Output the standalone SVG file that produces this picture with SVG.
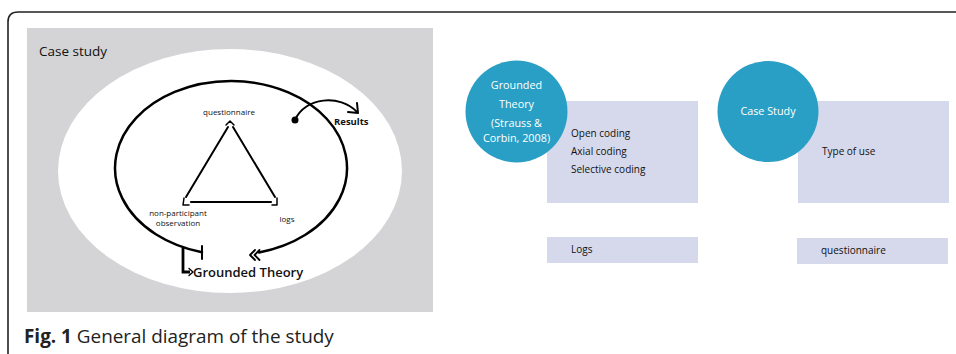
<svg xmlns="http://www.w3.org/2000/svg" width="956" height="354" viewBox="0 0 956 354">
<style>
.ln{fill:none;stroke:#000;stroke-linecap:round;stroke-linejoin:round}
.lbl{font-family:"Open Sans","Liberation Sans",sans-serif;fill:#111}
.wt{font-family:"Open Sans","Liberation Sans",sans-serif;fill:#fff;font-size:10.8px;text-anchor:middle}
.bx{fill:#d6d9eb}
.circ{fill:#2a9fc5}
.bt{font-family:"Open Sans","Liberation Sans",sans-serif;fill:#111;font-size:10px}
</style>
<rect width="956" height="354" fill="#fff"/>
<path d="M8 354 V22 Q8 12 18 12 H956" fill="none" stroke="#222" stroke-width="1.6"/>

<g id="case-study-panel">
<rect x="27" y="28" width="406" height="284" fill="#d4d4d6"/>
<ellipse cx="230" cy="171" rx="172" ry="122" fill="#fff"/>
<text class="lbl" x="39" y="56" font-size="13.5">Case study</text>
</g>

<g id="triangle">
<line class="ln" x1="228" y1="127" x2="186" y2="197" stroke-width="2"/>
<line class="ln" x1="233" y1="127" x2="275" y2="197" stroke-width="2"/>
<line class="ln" x1="191" y1="202" x2="271" y2="202" stroke-width="2.2"/>
<polyline class="ln" points="226,125 230,121 234,125" stroke-width="1.5"/>
<polyline class="ln" points="184,198 183,205 189,205" stroke-width="1.5"/>
<polyline class="ln" points="277,198 277,205 272,205" stroke-width="1.5"/>
</g>

<g id="node-questionnaire"><text class="lbl" x="229" y="115" font-size="8" text-anchor="middle">questionnaire</text></g>
<g id="node-observation"><text class="lbl" x="178" y="216" font-size="8" text-anchor="middle">non-participant</text><text class="lbl" x="178" y="226" font-size="8" text-anchor="middle">observation</text></g>
<g id="node-logs"><text class="lbl" x="287" y="222" font-size="8" text-anchor="middle">logs</text></g>
<g id="node-results"><text class="lbl" x="334" y="125" font-size="9.5" font-weight="bold">Results</text></g>
<g id="node-grounded-theory"><text class="lbl" x="193" y="277" font-size="13" font-weight="600">Grounded Theory</text></g>

<g id="connectors">
<path class="ln" d="M202 252.2 A116 87 0 1 1 259 252.4" stroke-width="2.5"/>
<line class="ln" x1="202" y1="246" x2="202" y2="259" stroke-width="2"/>
<path d="M183 248 V272 H190" fill="none" stroke="#000" stroke-width="2.8"/>
<polyline class="ln" points="189,268.5 193,272 189,275.5" stroke-width="1.4"/>
<polyline class="ln" points="255,250 250,255 255,260" stroke-width="1.8"/>
<polyline class="ln" points="259.5,250 254.5,255 259.5,260" stroke-width="1.8"/>
<circle cx="295" cy="120" r="3.5" fill="#000"/>
<path class="ln" d="M295 120 C305 97 340 94 357 112" stroke-width="2"/>
<polyline class="ln" points="357,103 358,113 348,112" stroke-width="2"/>
</g>

<g id="box-coding">
<rect class="bx" x="547" y="101" width="151" height="102"/>
<text class="bt" x="571" y="137">Open coding</text>
<text class="bt" x="571" y="155">Axial coding</text>
<text class="bt" x="571" y="173">Selective coding</text>
</g>
<g id="circle-grounded">
<circle class="circ" cx="516.5" cy="111.5" r="51"/>
<text class="wt" x="516.5" y="89">Grounded</text>
<text class="wt" x="516.5" y="108">Theory</text>
<text class="wt" x="516.5" y="127">(Strauss &amp;</text>
<text class="wt" x="516.5" y="142">Corbin, 2008)</text>
</g>
<g id="box-logs">
<rect class="bx" x="547" y="237" width="151" height="26"/>
<text class="bt" x="571" y="253">Logs</text>
</g>

<g id="box-type">
<rect class="bx" x="798" y="101" width="151" height="102"/>
<text class="bt" x="822" y="155">Type of use</text>
</g>
<g id="circle-case">
<circle class="circ" cx="768" cy="111.5" r="50.5"/>
<text class="wt" x="768" y="115">Case Study</text>
</g>
<g id="box-questionnaire">
<rect class="bx" x="797" y="238" width="151" height="26"/>
<text class="bt" x="821" y="254">questionnaire</text>
</g>

<g id="caption">
<text x="24" y="343" font-family="Open Sans, Liberation Sans, sans-serif" font-size="18.9" fill="#222"><tspan font-weight="bold">Fig. 1</tspan> General diagram of the study</text>
</g>
</svg>
